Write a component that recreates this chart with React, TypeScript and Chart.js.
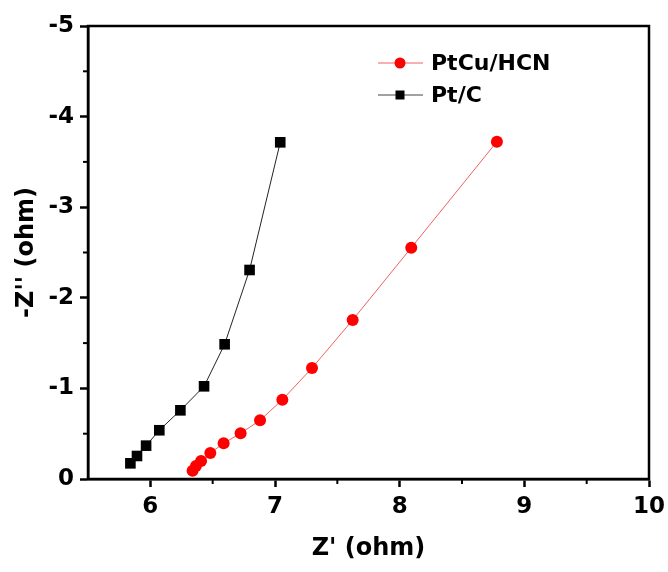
import React, { useEffect, useRef } from "react";
import { Chart, registerables } from "chart.js";

Chart.register(...registerables);

const X_TICKS = [6, 7, 8, 9, 10];
const Y_TICKS = [0, -1, -2, -3, -4, -5];
const X_MINOR = [5.5, 6.5, 7.5, 8.5, 9.5];
const Y_MINOR = [-0.5, -1.5, -2.5, -3.5, -4.5];

const PTCU_LABEL = "PtCu/HCN";
const PTCU_X = [6.339, 6.366, 6.407, 6.481, 6.588, 6.724, 6.88, 7.059, 7.297, 7.623, 8.093, 8.78];
const PTCU_Y = [-0.092, -0.143, -0.199, -0.287, -0.394, -0.504, -0.648, -0.875, -1.225, -1.755, -2.553, -3.723];

const PTC_LABEL = "Pt/C";
const PTC_X = [5.84, 5.893, 5.966, 6.072, 6.241, 6.431, 6.596, 6.796, 7.042];
const PTC_Y = [-0.173, -0.254, -0.368, -0.538, -0.758, -1.023, -1.487, -2.307, -3.716];

const FONT = "'DejaVu Sans', 'Liberation Sans', Arial, sans-serif";

const framePlugin = {
  id: "frame",
  afterDraw(chart: any) {
    const { ctx, chartArea, scales } = chart;
    const { left, right, top, bottom } = chartArea;
    ctx.save();
    ctx.strokeStyle = "#000";
    ctx.lineWidth = 2.5;
    ctx.strokeRect(left, top, right - left, bottom - top);
    ctx.lineWidth = 2;
    X_MINOR.forEach((v) => {
      const px = scales.x.getPixelForValue(v);
      if (px > left + 2 && px < right - 2) {
        ctx.beginPath();
        ctx.moveTo(px, bottom);
        ctx.lineTo(px, bottom + 5);
        ctx.stroke();
      }
    });
    Y_MINOR.forEach((v) => {
      const py = scales.y.getPixelForValue(v);
      ctx.beginPath();
      ctx.moveTo(left, py);
      ctx.lineTo(left - 5, py);
      ctx.stroke();
    });
    const items = [
      { label: PTCU_LABEL, color: "#ff0000", line: "#f06060", style: "circle" },
      { label: PTC_LABEL, color: "#000000", line: "#444444", style: "rect" },
    ];
    const lx0 = 378, lx1 = 423, mx = 400, tx = 431;
    const ys = [63, 95];
    items.forEach((it, i) => {
      const y = ys[i];
      ctx.strokeStyle = it.line;
      ctx.lineWidth = 1;
      ctx.beginPath();
      ctx.moveTo(lx0, y);
      ctx.lineTo(lx1, y);
      ctx.stroke();
      ctx.fillStyle = it.color;
      if (it.style === "circle") {
        ctx.beginPath();
        ctx.arc(mx, y, 5.5, 0, Math.PI * 2);
        ctx.fill();
      } else {
        ctx.fillRect(mx - 4.5, y - 4.5, 9, 9);
      }
      ctx.fillStyle = "#000";
      ctx.font = `bold 22px ${FONT}`;
      ctx.textAlign = "left";
      ctx.textBaseline = "middle";
      ctx.fillText(it.label, tx, y + 1);
    });
    ctx.restore();
  },
};

export default function App() {
  const ref = useRef<HTMLCanvasElement | null>(null);
  useEffect(() => {
    if (!ref.current) return;
    const chart = new Chart(ref.current, {
      type: "scatter",
      data: {
        datasets: [
          {
            label: PTCU_LABEL,
            data: PTCU_X.map((x, i) => ({ x, y: PTCU_Y[i] })),
            showLine: true,
            borderColor: "#f06060",
            borderWidth: 1,
            backgroundColor: "#ff0000",
            pointBackgroundColor: "#ff0000",
            pointBorderWidth: 0,
            pointRadius: 6,
            pointStyle: "circle",
          },
          {
            label: PTC_LABEL,
            data: PTC_X.map((x, i) => ({ x, y: PTC_Y[i] })),
            showLine: true,
            borderColor: "#222222",
            borderWidth: 1,
            backgroundColor: "#000000",
            pointBackgroundColor: "#000000",
            pointBorderWidth: 0,
            pointRadius: 7.5,
            pointStyle: "rect",
          },
        ],
      },
      options: {
        responsive: false,
        animation: false,
        layout: { padding: { top: 26, right: 19, left: 0, bottom: 0 } },
        plugins: { legend: { display: false }, tooltip: { enabled: false } },
        scales: {
          x: {
            type: "linear",
            min: 5.5,
            max: 10,
            afterBuildTicks: (s: any) => {
              s.ticks = X_TICKS.map((v) => ({ value: v }));
            },
            afterFit: (s: any) => {
              s.height = 93;
              s.paddingLeft = 0;
              s.paddingRight = 0;
            },
            grid: {
              drawOnChartArea: false,
              drawTicks: true,
              tickLength: 8,
              tickWidth: 2.5,
              tickColor: "#000",
              color: "#000",
            },
            border: { display: true, color: "#000", width: 2.5 },
            ticks: {
              color: "#000",
              font: { family: FONT, size: 23, weight: "bold" },
              padding: 6,
              maxRotation: 0,
              callback: (v: any) => String(v),
            },
            title: {
              display: true,
              text: "Z' (ohm)",
              color: "#000",
              font: { family: FONT, size: 24, weight: "bold" },
              padding: { bottom: 9, top: 0 },
            },
          },
          y: {
            type: "linear",
            min: -5,
            max: 0,
            reverse: true,
            afterBuildTicks: (s: any) => {
              s.ticks = Y_TICKS.map((v) => ({ value: v }));
            },
            afterFit: (s: any) => {
              s.width = 88;
              s.paddingTop = 0;
              s.paddingBottom = 0;
            },
            grid: {
              drawOnChartArea: false,
              drawTicks: true,
              tickLength: 8,
              tickWidth: 2.5,
              tickColor: "#000",
              color: "#000",
            },
            border: { display: true, color: "#000", width: 2.5 },
            ticks: {
              color: "#000",
              font: { family: FONT, size: 23, weight: "bold" },
              padding: 6,
              callback: (v: any) => String(v),
            },
            title: {
              display: true,
              text: "-Z'' (ohm)",
              color: "#000",
              font: { family: FONT, size: 24, weight: "bold" },
              padding: { top: 12, bottom: 0 },
            },
          },
        },
      },
      plugins: [framePlugin],
    });
    return () => chart.destroy();
  }, []);
  return (
    <div style={{ position: "absolute", left: 0, top: 0, width: 668, height: 572, background: "#fff" }}>
      <canvas ref={ref} width={668} height={572} />
    </div>
  );
}
